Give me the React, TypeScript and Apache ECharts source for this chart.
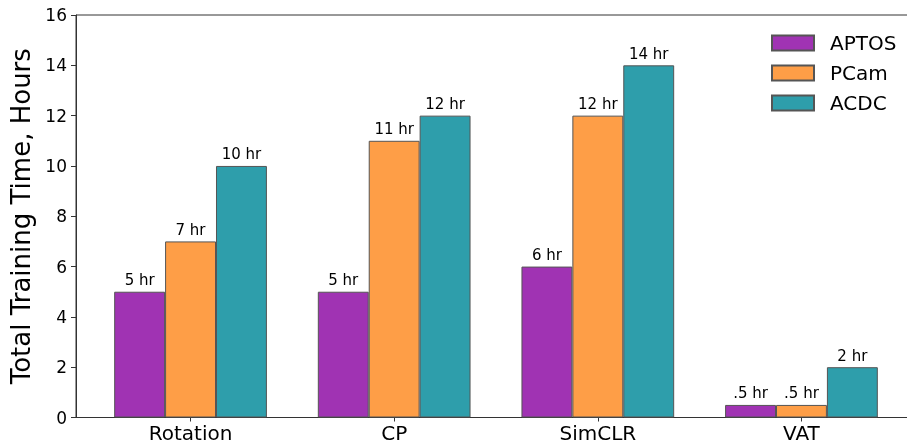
import React, { useEffect, useRef } from "react";
import * as echarts from "echarts";

const categories = ["Rotation", "CP", "SimCLR", "VAT"];
const positions = [0, 1, 2, 3];
const aptos = [5, 5, 6, 0.5];
const pcam = [7, 11, 12, 0.5];
const acdc = [10, 12, 14, 2];
const yTicks = { min: 0, max: 16, interval: 2 };

const FONT = "DejaVu Sans";

function fmt(v: number) {
  const s = String(v);
  return (s.startsWith("0.") ? s.slice(1) : s) + " hr";
}

export default function App() {
  const ref = useRef<HTMLDivElement>(null);
  useEffect(() => {
    if (!ref.current) return;
    const chart = echarts.init(ref.current, undefined, { renderer: "svg" });
    const mk = (name: string, vals: number[], color: string) => ({
      name,
      type: "bar",
      data: positions.map((p, i) => [p, vals[i]]),
      barWidth: "25%",
      barGap: "0%",
      itemStyle: { color, borderColor: "#555555", borderWidth: 1 },
      label: {
        show: true,
        position: "top",
        distance: 4,
        color: "#000",
        fontSize: 15,
        fontFamily: FONT,
        formatter: (p: any) => fmt(p.value[1]),
      },
    });
    chart.setOption({
      animation: false,
      textStyle: { fontFamily: FONT },
      grid: {
        left: 76,
        width: 840,
        top: 15,
        bottom: 27.5,
        outerBoundsMode: "none",
        containLabel: false,
        show: true,
        borderColor: "#333",
        borderWidth: 1,
      },
      legend: {
        orient: "vertical",
        left: 771,
        top: 33,
        padding: 0,
        itemWidth: 42,
        itemHeight: 15,
        itemGap: 10,
        icon: "rect",
        textStyle: { fontSize: 20, color: "#000", fontFamily: FONT, padding: [0, 0, 0, 11] },
        data: ["APTOS", "PCam", "ACDC"],
      },
      xAxis: {
        type: "value",
        min: -0.5625,
        max: 3.5625,
        splitLine: { show: false },
        axisLine: { show: true, onZero: false, lineStyle: { color: "#333" } },
        axisTick: { show: true, length: 4, customValues: positions, lineStyle: { color: "#333" } },
        axisLabel: {
          customValues: positions,
          formatter: (v: number) => categories[Math.round(v)] ?? "",
          fontSize: 20,
          color: "#000",
          margin: 5,
          fontFamily: FONT,
        },
      },
      yAxis: {
        type: "value",
        min: yTicks.min,
        max: yTicks.max,
        interval: yTicks.interval,
        splitLine: { show: false },
        axisLine: { show: true, onZero: false, lineStyle: { color: "#333" } },
        axisTick: { show: true, length: 5, lineStyle: { color: "#333" } },
        axisLabel: { fontSize: 17, color: "#000", margin: 9, fontFamily: FONT },
        name: "Total Training Time, Hours",
        nameLocation: "middle",
        nameGap: 42,
        nameTextStyle: { fontSize: 26, color: "#000", fontFamily: FONT },
      },
      series: [
        mk("APTOS", aptos, "#a033b3"),
        mk("PCam", pcam, "#fe9e47"),
        mk("ACDC", acdc, "#2e9eab"),
      ],
    });
    return () => chart.dispose();
  }, []);
  return (
    <div
      ref={ref}
      style={{ position: "fixed", left: 0, top: 0, width: 907, height: 445 }}
    />
  );
}
